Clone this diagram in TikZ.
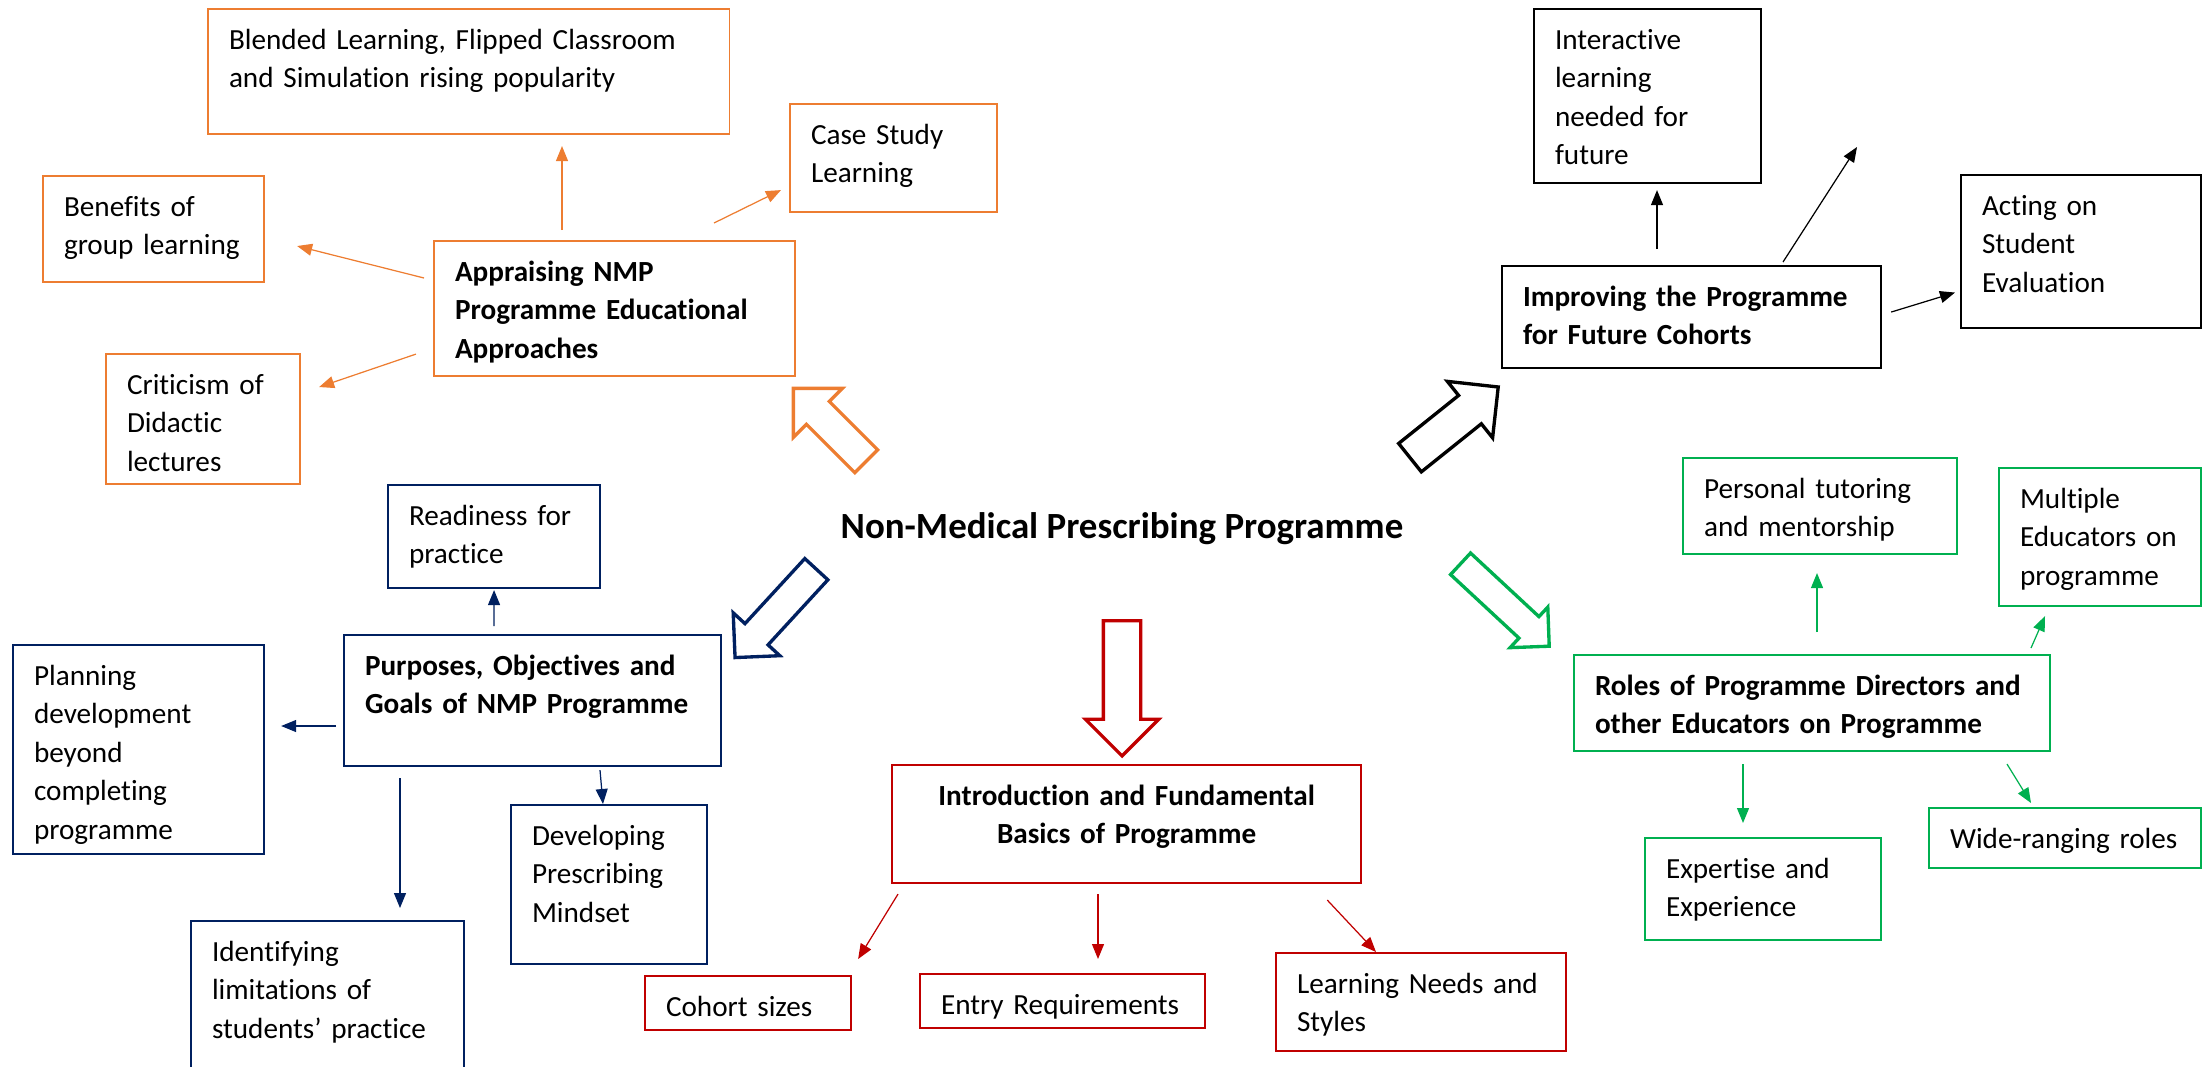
\documentclass[tikz,border=0pt]{standalone}
\usepackage{fontspec}
\setmainfont{Carlito}[Ligatures=NoCommon]
\usepackage{xcolor}
\usepackage{tikz}
\usetikzlibrary{shapes.arrows}
\usetikzlibrary{arrows.meta}
\definecolor{nmporange}{RGB}{237,125,49}
\definecolor{nmpnavy}{RGB}{0,32,96}
\definecolor{nmpred}{RGB}{192,0,0}
\definecolor{nmpgreen}{RGB}{0,176,80}
\tikzstyle{box} = [rectangle, draw, anchor=north west, align=left, inner xsep=0.21cm, inner ysep=0pt, outer sep=0pt, text height=0.40cm, line width=0.4pt, font=\fontsize{8.3}{10.95}\selectfont]
\tikzstyle{mainbox} = [box, line width=0.65pt, font=\fontsize{8.3}{10.95}\selectfont\bfseries]
\tikzstyle{arrow} = [line width=0.35pt, -{Triangle[length=0.15cm,width=0.12cm]}]
\tikzset{bigarrow/.style n args={3}{single arrow, draw, fill=white, line width=0.95pt, inner xsep=0pt, minimum height=#1, inner ysep=#2, single arrow head extend=#3}}

\begin{document}
\begin{tikzpicture}[x=0.01cm, y=-0.01cm]

    \useasboundingbox (0,0) rectangle (2203,1066);

    \node (title) [font=\fontsize{10.5}{12}\selectfont\bfseries, anchor=base] at (1122,538) {Non-Medical Prescribing Programme};

    % orange branch
    \node (appr) [mainbox, draw=nmporange, text width=3.19cm, text depth=0.95cm] at (434,241) {Appraising NMP\\Programme Educational\\Approaches};
    \node (blend) [box, draw=nmporange, text width=4.79cm, text depth=0.85cm] at (208,9) {Blended Learning, Flipped Classroom\\and Simulation rising popularity};
    \node (case) [box, draw=nmporange, text width=1.65cm, text depth=0.68cm] at (790,104) {Case Study\\Learning};
    \node (benef) [box, draw=nmporange, text width=1.79cm, text depth=0.66cm] at (43,176) {Benefits of\\group learning};
    \node (critic) [box, draw=nmporange, text width=1.52cm, text depth=0.90cm] at (106,354) {Criticism of\\Didactic\\lectures};
    \node (arrAppr) [bigarrow={1.03cm}{0.145cm}{0.185cm}, draw=nmporange, rotate=135] at (835.5,430.5) {};

    \draw [arrow, nmporange] ([shift={(128,-11)}]appr.north west) -- ([shift={(354,12)}]blend.south west);
    \draw [arrow, nmporange] ([shift={(280,-18)}]appr.north west) -- ([shift={(-9,-22)}]case.south west);
    \draw [arrow, nmporange] ([shift={(-10,37)}]appr.north west) -- ([shift={(33,17)}]benef.east);
    \draw [arrow, nmporange] ([shift={(-18,-22)}]appr.south west) -- ([shift={(19,-32)}]critic.east);

    % black branch
    \node (improve) [mainbox, draw=black, text width=3.37cm, text depth=0.62cm] at (1502,266) {Improving the Programme\\for Future Cohorts};
    \node (interact) [box, draw=black, text width=1.85cm, text depth=1.34cm] at (1534,9) {Interactive\\learning\\needed for\\future};
    \node (acting) [box, draw=black, text width=1.98cm, text depth=1.13cm] at (1961,175) {Acting on\\Student\\Evaluation};
    \coordinate (improveFree) at (1857,147);
    \node (arrImprove) [bigarrow={1.13cm}{0.165cm}{0.18cm}, draw=black, rotate=38.7] at (1447,428) {};

    \draw [arrow, black] ([shift={(155,-17)}]improve.north west) -- ([shift={(123,7)}]interact.south west);
    \draw [arrow, black] ([shift={(281,-4)}]improve.north west) -- (improveFree);
    \draw [arrow, black] ([shift={(10,-5)}]improve.east) -- ([shift={(-6,41)}]acting.west);

    % navy branch
    \node (purpose) [mainbox, draw=nmpnavy, text width=3.35cm, text depth=0.91cm] at (344,635) {Purposes, Objectives and\\Goals of NMP Programme};
    \node (ready) [box, draw=nmpnavy, text width=1.70cm, text depth=0.63cm] at (388,485) {Readiness for\\practice};
    \node (plan) [box, draw=nmpnavy, text width=2.09cm, text depth=1.69cm] at (13,645) {Planning\\development\\beyond\\completing\\programme};
    \node (develop) [box, draw=nmpnavy, line width=0.6pt, text width=1.54cm, text depth=1.19cm] at (511,805) {Developing\\Prescribing\\Mindset};
    \node (identify) [box, draw=nmpnavy, text width=2.31cm, text depth=1.20cm] at (191,921) {Identifying\\limitations of\\students’ practice};
    \node (arrPurpose) [bigarrow={1.20cm}{0.14cm}{0.16cm}, draw=nmpnavy, rotate=-132.6] at (781,607.6) {};

    \draw [arrow, nmpnavy] ([shift={(150,-9)}]purpose.north west) -- ([shift={(0,2)}]ready.south);
    \draw [arrow, nmpnavy] ([shift={(-8,91)}]purpose.north west) -- ([shift={(17,81)}]plan.north east);
    \draw [arrow, nmpnavy] ([shift={(56,12)}]purpose.south west) -- ([shift={(209,-13)}]identify.north west);
    \draw [arrow, nmpnavy] ([shift={(256,4)}]purpose.south west) -- ([shift={(92,-1)}]develop.north west);

    % red branch
    \node (intro) [mainbox, draw=nmpred, align=center, text width=4.27cm, text depth=0.78cm] at (892,765) {Introduction and Fundamental\\Basics of Programme};
    \node (cohort) [box, draw=nmpred, text width=1.64cm, text depth=0.14cm] at (645,976) {Cohort sizes};
    \node (entry) [box, draw=nmpred, text width=2.43cm, text depth=0.14cm] at (920,974) {Entry Requirements};
    \node (needs) [box, draw=nmpred, text width=2.48cm, text depth=0.58cm] at (1276,953) {Learning Needs and\\Styles};
    \node (arrIntro) [bigarrow={1.35cm}{0.17cm}{0.18cm}, draw=nmpred, rotate=-90] at (1122,679) {};

    \draw [arrow, nmpred] ([shift={(6,11)}]intro.south west) -- ([shift={(7,-17)}]cohort.north east);
    \draw [arrow, nmpred] ([shift={(206,11)}]intro.south west) -- ([shift={(178,-15)}]entry.north west);
    \draw [arrow, nmpred] ([shift={(-34,17)}]intro.south east) -- ([shift={(100,-1)}]needs.north west);

    % green branch
    \node (roles) [mainbox, draw=nmpgreen, text width=4.34cm, text depth=0.56cm] at (1574,655) {Roles of Programme Directors and\\other Educators on Programme};
    \node (tutor) [box, draw=nmpgreen, text width=2.32cm, text depth=0.56cm] at (1683,458) {Personal tutoring\\and mentorship};
    \node (multi) [box, draw=nmpgreen, text width=1.60cm, text depth=0.98cm] at (1999,468) {Multiple\\Educators on\\programme};
    \node (expert) [box, draw=nmpgreen, text width=1.94cm, text depth=0.62cm] at (1645,838) {Expertise and\\Experience};
    \node (wide) [box, draw=nmpgreen, text width=2.30cm, text depth=0.20cm] at (1929,808) {Wide-ranging roles};
    \node (arrRoles) [bigarrow={1.21cm}{0.13cm}{0.13cm}, draw=nmpgreen, rotate=-42.9] at (1499.5,600) {};

    \draw [arrow, nmpgreen] ([shift={(243,-23)}]roles.north west) -- ([shift={(134,19)}]tutor.south west);
    \draw [arrow, nmpgreen] ([shift={(457,-7)}]roles.north west) -- ([shift={(46,10)}]multi.south west);
    \draw [arrow, nmpgreen] ([shift={(169,13)}]roles.south west) -- ([shift={(98,-15)}]expert.north west);
    \draw [arrow, nmpgreen] ([shift={(433,13)}]roles.south west) -- ([shift={(102,-5)}]wide.north west);

\end{tikzpicture}
\end{document}
